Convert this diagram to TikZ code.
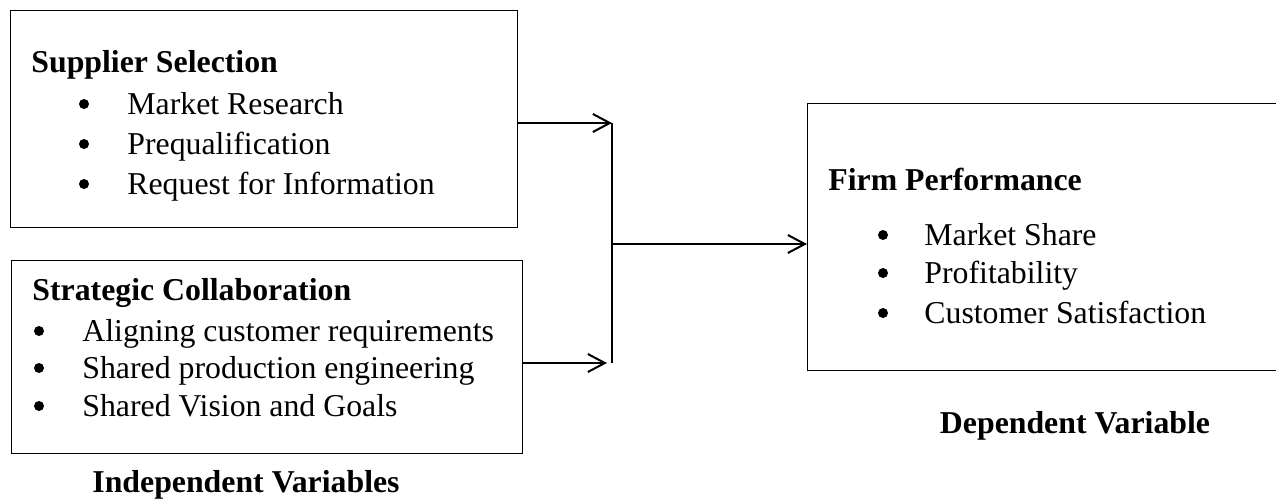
\documentclass[tikz,border=0pt]{standalone}
\usepackage{fontspec}
\setmainfont{Liberation Serif}
\usetikzlibrary{arrows.meta}

\tikzset{
	box/.style={draw, line width=0.7pt, inner sep=0pt, anchor=north west},
	txt/.style={anchor=base west, inner sep=0pt, font=\fontsize{15.9}{19}\selectfont},
	head/.style={txt, font=\fontsize{15.9}{19}\selectfont\bfseries},
	dot/.style={circle, fill=black, inner sep=0pt, minimum size=5pt},
	conn/.style={line width=1pt, -{Straight Barb[length=8.5pt, width=9pt]}}
}

\begin{document}
\begin{tikzpicture}[x=0.5pt, y=-0.5pt]
	\useasboundingbox (0,0) rectangle (1276,499);

	% left boxes
	\node[box, minimum width=253.5pt, minimum height=108.5pt] (sel) at (10,10) {};
	\node[head] (selhead) at (31,72) {Supplier Selection};
	\foreach \n/\y/\t in {1/114/Market Research, 2/154/Prequalification, 3/194/Request for Information}
	{
		\node[dot] (seldot\n) at (84,\y-10) {};
		\node[txt] (selitem\n) at (127,\y) {\t};
	}

	\node[box, minimum width=255.5pt, minimum height=96.5pt] (col) at (11,260) {};
	\node[head] (colhead) at (32,300) {Strategic Collaboration};
	\foreach \n/\y/\t in {1/341/Aligning customer requirements, 2/378/Shared production engineering, 3/416/Shared Vision and Goals}
	{
		\node[dot] (coldot\n) at (39,\y-10) {};
		\node[txt] (colitem\n) at (82,\y) {\t};
	}
	\node[head, anchor=base] (indep) at (246,492) {Independent Variables};

	% right box
	\node[box, minimum width=246.5pt, minimum height=133.5pt] (perf) at (807,103) {};
	\node[head] (perfhead) at (828,190) {Firm Performance};
	\foreach \n/\y/\t in {1/245/Market Share, 2/283/Profitability, 3/323/Customer Satisfaction}
	{
		\node[dot] (perfdot\n) at (883,\y-10) {};
		\node[txt] (perfitem\n) at (924,\y) {\t};
	}
	\node[head, anchor=base] (dep) at (1075,433) {Dependent Variable};

	% connectors
	\coordinate (jtop) at (612,123);
	\coordinate (jmid) at (612,244);
	\coordinate (jbot) at (612,363);
	\draw[conn] (sel.east |- jtop) -- (jtop);
	\draw[conn] (col.east |- jbot) -- ([xshift=-2.5pt]jbot);
	\draw[line width=1pt] (jtop) -- (jbot);
	\draw[conn] (jmid) -- (perf.west |- jmid);
\end{tikzpicture}
\end{document}
